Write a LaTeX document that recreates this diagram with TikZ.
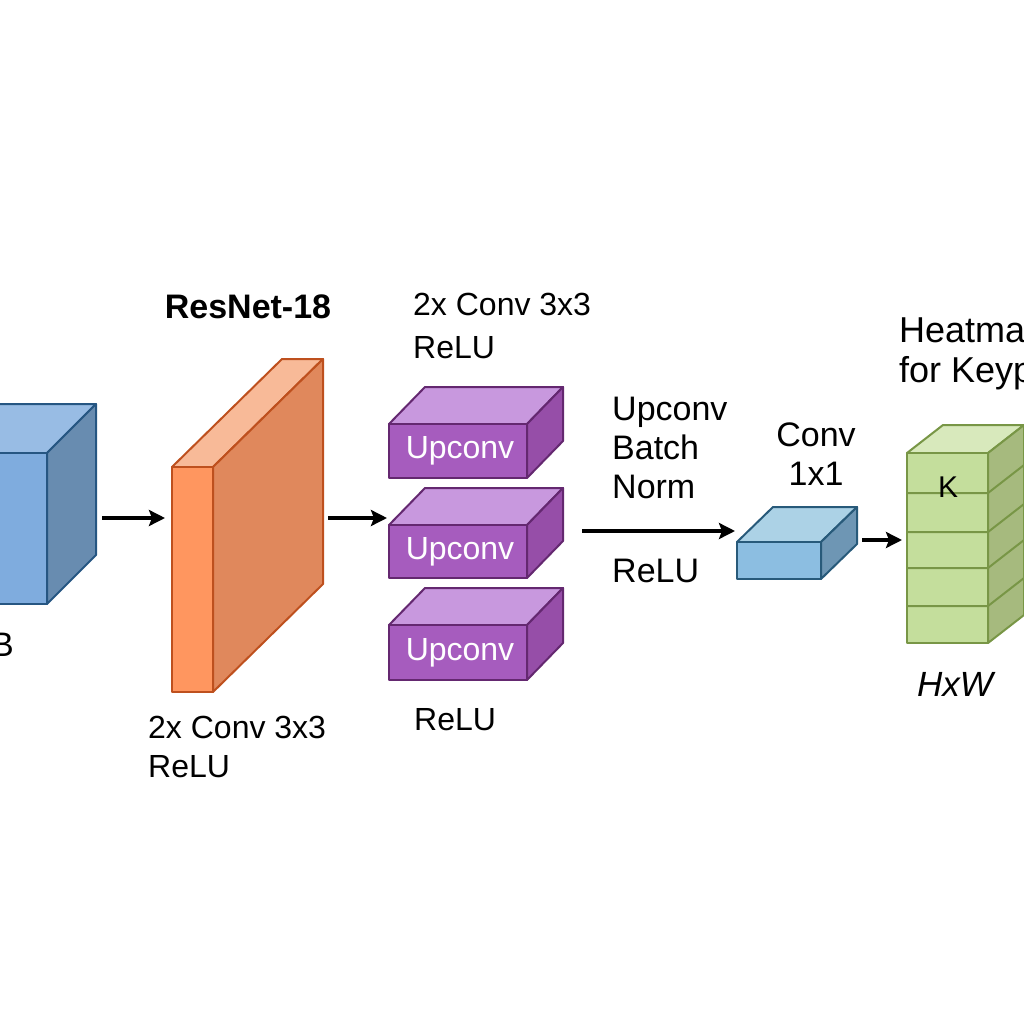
\documentclass[tikz,border=0pt]{standalone}
\usepackage{fontspec}
\setmainfont{Liberation Sans}
\usetikzlibrary{arrows.meta}
\definecolor{bF}{RGB}{127,172,222}
\definecolor{bT}{RGB}{152,188,228}
\definecolor{bS}{RGB}{104,140,176}
\definecolor{bD}{RGB}{38,86,130}
\definecolor{oF}{RGB}{255,150,95}
\definecolor{oT}{RGB}{248,186,152}
\definecolor{oS}{RGB}{224,136,92}
\definecolor{oD}{RGB}{190,80,30}
\definecolor{pF}{RGB}{166,92,190}
\definecolor{pT}{RGB}{200,152,222}
\definecolor{pS}{RGB}{150,78,168}
\definecolor{pD}{RGB}{100,40,112}
\definecolor{cF}{RGB}{140,190,225}
\definecolor{cT}{RGB}{172,210,230}
\definecolor{cS}{RGB}{110,150,180}
\definecolor{cD}{RGB}{40,90,122}
\definecolor{gF}{RGB}{196,222,156}
\definecolor{gT}{RGB}{216,233,188}
\definecolor{gS}{RGB}{166,186,126}
\definecolor{gD}{RGB}{120,150,70}
\tikzset{
  face/.style={line width=2pt, line join=round},
  bltop/.style={face, fill=bT, draw=bD}, blside/.style={face, fill=bS, draw=bD}, blfront/.style={face, fill=bF, draw=bD},
  ortop/.style={face, fill=oT, draw=oD}, orside/.style={face, fill=oS, draw=oD}, orfront/.style={face, fill=oF, draw=oD},
  putop/.style={face, fill=pT, draw=pD}, puside/.style={face, fill=pS, draw=pD}, pufront/.style={face, fill=pF, draw=pD},
  cvtop/.style={face, fill=cT, draw=cD}, cvside/.style={face, fill=cS, draw=cD}, cvfront/.style={face, fill=cF, draw=cD},
  grtop/.style={face, fill=gT, draw=gD}, grside/.style={face, fill=gS, draw=gD}, grfront/.style={face, fill=gF, draw=gD},
  arr/.style={line width=3.4pt, -{Stealth[length=16pt,width=16pt,inset=3pt]}},
  lbl/.style={inner sep=0pt, font=\fontsize{34}{39}\selectfont, align=left},
  slbl/.style={inner sep=0pt, font=\fontsize{32}{39}\selectfont, align=left},
  uplbl/.style={inner sep=0pt, text=white, font=\fontsize{32}{36}\selectfont},
  divider/.style={line width=2pt, draw=gD}
}
\newcommand{\cuboid}[7]{%
  \path[#1top] (#2,#3) -- ({#2+#6},{#3-#7}) -- ({#4+#6},{#3-#7}) -- (#4,#3) -- cycle;
  \path[#1side] (#4,#3) -- ({#4+#6},{#3-#7}) -- ({#4+#6},{#5-#7}) -- (#4,#5) -- cycle;
  \path[#1front] (#2,#3) rectangle (#4,#5);
}
\begin{document}
\begin{tikzpicture}[x=1pt,y=-1pt]
\useasboundingbox (0,0) rectangle (1024,1024);
\clip (0,0) rectangle (1024,1024);
% input cube
\cuboid{bl}{-140}{453}{47}{604}{49}{49}
\node[lbl, anchor=base east] (rgb) at (14,656) {RGB};
% ResNet-18 slab
\cuboid{or}{172}{467}{213}{692}{110}{108}
\node[inner sep=0pt, font=\bfseries\fontsize{34}{39}\selectfont, anchor=base] (resnet) at (248,318) {ResNet-18};
\node[slbl, anchor=north west] (reslbl) at (148,716) {2x Conv 3x3\\ReLU};
% upconv blocks
\cuboid{pu}{389}{424}{527}{478}{36}{37}
\cuboid{pu}{389}{525}{527}{578}{36}{37}
\cuboid{pu}{389}{625}{527}{680}{36}{37}
\node[uplbl] (up1) at (460,451) {Upconv};
\node[uplbl] (up2) at (460,552) {Upconv};
\node[uplbl] (up3) at (460,653) {Upconv};
\node[slbl, anchor=north west, font=\fontsize{32}{43}\selectfont] (uptop) at (413,293) {2x Conv 3x3\\ReLU};
\node[slbl, anchor=base west] (upbot) at (414,730) {ReLU};
% middle labels
\node[lbl, anchor=north west] (ubn) at (612,397) {Upconv\\Batch\\Norm};
\node[lbl, anchor=north west] (relu2) at (612,559) {ReLU};
% conv 1x1
\cuboid{cv}{737}{542}{821}{579}{36}{35}
\node[lbl, align=center, anchor=north] (convlbl) at (816,423) {Conv\\1x1};
% heatmap stack
\cuboid{gr}{907}{453}{988}{643}{36}{28}
\foreach \yy in {493,532,568,606} {
  \draw[divider] (907,\yy) -- (988,\yy) -- (1024,\yy-28);
}
\node[inner sep=0pt, font=\fontsize{30}{34}\selectfont] (k) at (948,487) {K};
\node[inner sep=0pt, font=\fontsize{36}{40}\selectfont, align=left, anchor=north west] (heat) at (899,318) {Heatmaps\\for Keypoints};
\node[inner sep=0pt, font=\itshape\fontsize{35}{40}\selectfont] (hw) at (955,684) {HxW};
% connectors
\coordinate (a1s) at (102,518); \coordinate (a1e) at (165,518);
\coordinate (a2s) at (328,518); \coordinate (a2e) at (387,518);
\coordinate (a3s) at (582,531); \coordinate (a3e) at (735,531);
\coordinate (a4s) at (862,540); \coordinate (a4e) at (902,540);
\draw[arr] (a1s) -- (a1e);
\draw[arr] (a2s) -- (a2e);
\draw[arr] (a3s) -- (a3e);
\draw[arr] (a4s) -- (a4e);
\end{tikzpicture}
\end{document}
